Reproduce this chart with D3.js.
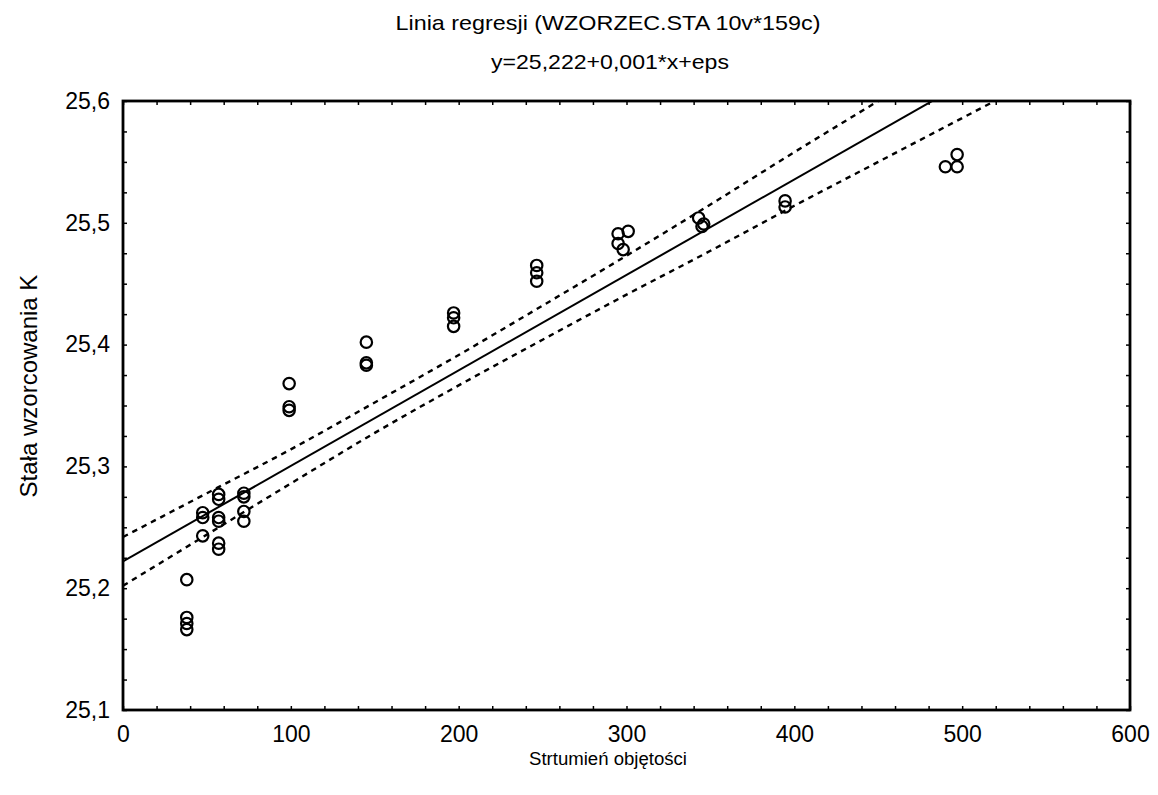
<!DOCTYPE html>
<html><head><meta charset="utf-8">
<script src="https://cdn.jsdelivr.net/npm/d3@7"></script>
<style>
body{margin:0;background:#fff;}
svg{display:block;}
.reg{font-family:"Liberation Sans",Arial,sans-serif;}
</style></head>
<body>
<svg id="c" width="1158" height="795"></svg>
<script>
// ---- data ----
const titleText = "Linia regresji (WZORZEC.STA 10v*159c)";
const subtitleText = "y=25,222+0,001*x+eps";
const xTitle = "Strtumień objętości";
const yTitle = "Stała wzorcowania K";

const xTicks = [0, 100, 200, 300, 400, 500, 600];
const yTicks = [25.1, 25.2, 25.3, 25.4, 25.5, 25.6];

const pointsX = [38, 38, 38, 38,
  47.5, 47.5, 47.5,
  57, 57, 57, 57, 57, 57,
  72, 72, 72, 72,
  99, 99, 99,
  145, 145, 145,
  197, 197, 197,
  246.5, 246.5, 246.5,
  295, 295, 298, 301,
  343, 345, 346,
  394.5, 394.5,
  490, 497, 497];
const pointsY = [25.207, 25.176, 25.171, 25.166,
  25.262, 25.258, 25.243,
  25.277, 25.273, 25.258, 25.255, 25.237, 25.232,
  25.278, 25.275, 25.263, 25.255,
  25.368, 25.349, 25.346,
  25.402, 25.385, 25.383,
  25.426, 25.422, 25.415,
  25.465, 25.459, 25.452,
  25.491, 25.483, 25.478, 25.493,
  25.504, 25.497, 25.499,
  25.518, 25.513,
  25.546, 25.546, 25.556];

// regression line end points
const lineX = [0, 600];
const lineY = [25.222, 25.6924];

// 95% confidence band read at these x positions
const bandX = [0, 50, 100, 150, 200, 250, 300, 350, 400, 450, 500, 550, 600];
const bandUpper = [25.242, 25.278, 25.314, 25.3525, 25.3915, 25.432, 25.473, 25.515, 25.558, 25.600, 25.642, 25.684, 25.727];
const bandLower = [25.202, 25.244, 25.286, 25.3275, 25.3665, 25.404, 25.441, 25.477, 25.514, 25.550, 25.586, 25.622, 25.658];

// ---- layout ----
const L = 123, R = 1130, T = 101, B = 710;
const svg = d3.select("#c");
const x = d3.scaleLinear().domain([0, 600]).range([L, R]);
const y = d3.scaleLinear().domain([25.1, 25.6]).range([B, T]);
const fmt = d => d3.format(".1f")(d).replace(".", ",");

svg.append("defs").append("clipPath").attr("id", "clip")
  .append("rect").attr("x", L).attr("y", T).attr("width", R - L).attr("height", B - T);

// ticks (inward, all sides)
const xMinor = d3.range(0, 601, 20);
const yMinor = d3.range(0, 21).map(i => 25.1 + i * 0.025);
function tickAxis(axis, tr) {
  const g = svg.append("g").attr("transform", tr).call(axis);
  g.select(".domain").remove();
  g.selectAll("text").remove();
  g.selectAll("line").attr("stroke", "#000").attr("stroke-width", 1.5);
}
tickAxis(d3.axisBottom(x).tickValues(xMinor).tickSize(-4), `translate(0,${B})`);
tickAxis(d3.axisTop(x).tickValues(xMinor).tickSize(-4), `translate(0,${T})`);
tickAxis(d3.axisLeft(y).tickValues(yMinor).tickSize(-4), `translate(${L},0)`);
tickAxis(d3.axisRight(y).tickValues(yMinor).tickSize(-4), `translate(${R},0)`);

// labels via axes
const xa = svg.append("g").attr("transform", `translate(0,${B})`)
  .call(d3.axisBottom(x).tickValues(xTicks).tickSize(0).tickPadding(16).tickFormat(d => d));
xa.select(".domain").remove();
xa.selectAll("text").attr("class", "reg").style("font-size", "23px").attr("fill", "#000");

const ya = svg.append("g").attr("transform", `translate(${L},0)`)
  .call(d3.axisLeft(y).tickValues(yTicks).tickSize(0).tickPadding(13).tickFormat(fmt));
ya.select(".domain").remove();
ya.selectAll("text").attr("class", "reg").style("font-size", "23px").attr("fill", "#000");

// frame
svg.append("rect").attr("x", L).attr("y", T).attr("width", R - L).attr("height", B - T)
  .attr("fill", "none").attr("stroke", "#000").attr("stroke-width", 2.8);

const plot = svg.append("g").attr("clip-path", "url(#clip)");

// confidence bands
const bandLine = d3.line().curve(d3.curveMonotoneX);
[bandUpper, bandLower].forEach(arr => {
  plot.append("path")
    .attr("d", bandLine(bandX.map((v, i) => [x(v), y(arr[i])])))
    .attr("fill", "none").attr("stroke", "#000").attr("stroke-width", 2.4)
    .attr("stroke-dasharray", "5.5,5");
});

// regression line
plot.append("path")
  .attr("d", d3.line()(lineX.map((v, i) => [x(v), y(lineY[i])])))
  .attr("fill", "none").attr("stroke", "#000").attr("stroke-width", 2);

// points
plot.selectAll("circle.p").data(pointsX.map((v, i) => [v, pointsY[i]])).join("circle")
  .attr("class", "p")
  .attr("cx", d => x(d[0])).attr("cy", d => y(d[1])).attr("r", 5.7)
  .attr("fill", "none").attr("stroke", "#000").attr("stroke-width", 2.2);

// titles
svg.append("text").attr("class", "reg").attr("x", 608).attr("y", 30)
  .attr("text-anchor", "middle").style("font-size", "21px")
  .attr("textLength", 425).attr("lengthAdjust", "spacingAndGlyphs").text(titleText);
svg.append("text").attr("class", "reg").attr("x", 610).attr("y", 69)
  .attr("text-anchor", "middle").style("font-size", "21px")
  .attr("textLength", 238).attr("lengthAdjust", "spacingAndGlyphs").text(subtitleText);
svg.append("text").attr("class", "reg").attr("x", 608).attr("y", 765)
  .attr("text-anchor", "middle").style("font-size", "18px")
  .attr("textLength", 158).attr("lengthAdjust", "spacingAndGlyphs").text(xTitle);
svg.append("text").attr("class", "reg")
  .attr("transform", "translate(37,386) rotate(-90)")
  .attr("text-anchor", "middle").style("font-size", "24px").text(yTitle);
</script>
</body></html>
